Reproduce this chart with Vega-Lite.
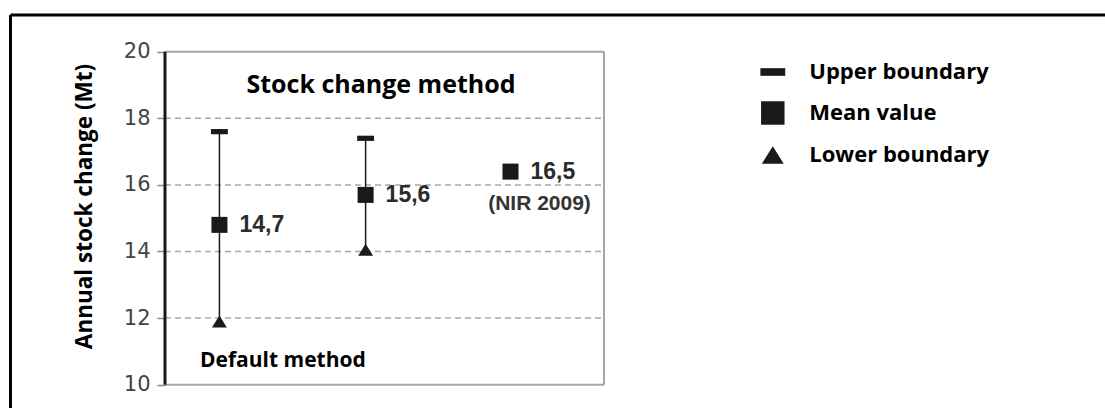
{
  "$schema": "https://vega.github.io/schema/vega-lite/v6.json",
  "width": 1094.5,
  "height": 393,
  "autosize": {"type": "none"},
  "padding": {"left": 10.5, "top": 15, "right": 0, "bottom": 0},
  "background": "white",
  "config": {
    "view": {"stroke": "#000000", "strokeWidth": 3, "strokeDash": [1094.5, 1487.5, 393, 0]},
    "font": "Open Sans"
  },
  "datasets": {
    "estimates": [
      {"method": "Default method", "idx": 1.24, "lower": 11.9, "mean": 14.8, "upper": 17.6, "label": "14,7"},
      {"method": "Stock change method", "idx": 4.57, "lower": 14.05, "mean": 15.7, "upper": 17.4, "label": "15,6"},
      {"method": "NIR 2009", "idx": 7.87, "lower": null, "mean": 16.4, "upper": null, "label": "16,5", "note": "(NIR 2009)"}
    ],
    "grid": [{"v": 12}, {"v": 14}, {"v": 16}, {"v": 18}]
  },
  "layer": [
    {
      "data": {"name": "grid"},
      "mark": {"type": "rule", "color": "#a6a6a6", "strokeWidth": 1.5, "strokeDash": [6, 4]},
      "encoding": {
        "x": {"datum": 0, "type": "quantitative", "scale": {"domain": [-3.519, 21.412], "nice": false, "zero": false}, "axis": null},
        "x2": {"datum": 10},
        "y": {
          "field": "v", "type": "quantitative",
          "scale": {"domain": [9.299, 21.104], "nice": false, "zero": false},
          "axis": {
            "title": "Annual stock change (Mt)",
            "orient": "left",
            "offset": -154.5,
            "values": [10, 12, 14, 16, 18, 20],
            "domain": false,
            "grid": false,
            "ticks": true,
            "tickColor": "#8c8c8c",
            "tickSize": 8,
            "tickWidth": 1.5,
            "labelFont": "DejaVu Sans",
            "labelFontSize": 21,
            "labelColor": "#444444",
            "labelPadding": 7,
            "titleFont": "Open Sans",
            "titleFontSize": 22.5,
            "titleFontWeight": "bold",
            "titleColor": "#000000",
            "titleAngle": 270,
            "titleAlign": "center",
            "titleBaseline": "alphabetic",
            "titleX": -74,
            "titleY": 191
          }
        }
      }
    },
    {
      "data": {"values": [{}]},
      "mark": {"type": "rule", "color": "#a6a6a6", "strokeWidth": 2},
      "encoding": {"x": {"datum": 0, "type": "quantitative", "axis": null}, "x2": {"datum": 10}, "y": {"datum": 20, "type": "quantitative"}}
    },
    {
      "data": {"values": [{}]},
      "mark": {"type": "rule", "color": "#a6a6a6", "strokeWidth": 2},
      "encoding": {"x": {"datum": 0, "type": "quantitative", "axis": null}, "x2": {"datum": 10}, "y": {"datum": 10, "type": "quantitative"}}
    },
    {
      "data": {"values": [{}]},
      "mark": {"type": "rule", "color": "#a6a6a6", "strokeWidth": 2},
      "encoding": {"x": {"datum": 10, "type": "quantitative", "axis": null}, "y": {"datum": 10, "type": "quantitative"}, "y2": {"datum": 20}}
    },
    {
      "data": {"values": [{}]},
      "mark": {"type": "rule", "color": "#1a1a1a", "strokeWidth": 3},
      "encoding": {"x": {"datum": 0, "type": "quantitative", "axis": null}, "y": {"datum": 10, "type": "quantitative"}, "y2": {"datum": 20}}
    },
    {
      "data": {"name": "estimates"},
      "transform": [{"filter": "datum.lower != null"}],
      "mark": {"type": "rule", "color": "#1a1a1a", "strokeWidth": 1.5},
      "encoding": {
        "x": {"field": "idx", "type": "quantitative", "axis": null},
        "y": {"field": "lower", "type": "quantitative"},
        "y2": {"field": "upper"}
      }
    },
    {
      "data": {"name": "estimates"},
      "transform": [
        {"fold": ["upper", "mean", "lower"], "as": ["stat", "value"]},
        {"filter": "datum.value != null"}
      ],
      "mark": {"type": "point", "filled": true, "opacity": 1, "color": "#1a1a1a", "size": 324, "strokeWidth": 0},
      "encoding": {
        "x": {"field": "idx", "type": "quantitative", "axis": null},
        "y": {"field": "value", "type": "quantitative"},
        "shape": {
          "field": "stat", "type": "nominal",
          "scale": {
            "domain": ["upper", "mean", "lower"],
            "range": ["M-0.94,-0.29H0.94V0.29H-0.94Z", "M-0.89,-0.89H0.89V0.89H-0.89Z", "M0,-0.67L0.83,0.67H-0.83Z"]
          },
          "legend": {
            "orient": "none",
            "legendX": 748.8,
            "legendY": 43.5,
            "title": null,
            "padding": 0,
            "labelExpr": "datum.label == 'upper' ? 'Upper boundary' : datum.label == 'mean' ? 'Mean value' : 'Lower boundary'",
            "labelFont": "Open Sans",
            "labelFontSize": 22,
            "labelFontWeight": "bold",
            "labelColor": "#000000",
            "labelOffset": 23,
            "labelLimit": 400,
            "symbolSize": 697,
            "symbolFillColor": "#1a1a1a",
            "symbolStrokeWidth": 0,
            "symbolOpacity": 1,
            "rowPadding": 16
          }
        }
      }
    },
    {
      "data": {"name": "estimates"},
      "mark": {"type": "text", "align": "left", "baseline": "middle", "dx": 20, "font": "Liberation Sans", "fontSize": 23, "fontWeight": "bold", "color": "#2b2b2b"},
      "encoding": {
        "x": {"field": "idx", "type": "quantitative", "axis": null},
        "y": {"field": "mean", "type": "quantitative"},
        "text": {"field": "label"}
      }
    },
    {
      "data": {"name": "estimates"},
      "transform": [{"filter": "datum.note != null"}],
      "mark": {"type": "text", "align": "center", "baseline": "middle", "dx": 29, "dy": 32, "font": "Liberation Sans", "fontSize": 21, "fontWeight": "bold", "color": "#333333"},
      "encoding": {
        "x": {"field": "idx", "type": "quantitative", "axis": null},
        "y": {"field": "mean", "type": "quantitative"},
        "text": {"field": "note"}
      }
    },
    {
      "data": {"values": [{}]},
      "mark": {"type": "text", "text": "Stock change method", "align": "center", "baseline": "alphabetic", "font": "Open Sans", "fontSize": 25, "fontWeight": "bold", "color": "#000000"},
      "encoding": {"x": {"datum": 4.92, "type": "quantitative", "axis": null}, "y": {"datum": 18.75, "type": "quantitative"}}
    },
    {
      "data": {"values": [{}]},
      "mark": {"type": "text", "text": "Default method", "align": "left", "baseline": "alphabetic", "font": "Open Sans", "fontSize": 21, "fontWeight": "bold", "color": "#000000"},
      "encoding": {"x": {"datum": 0.797, "type": "quantitative", "axis": null}, "y": {"datum": 10.54, "type": "quantitative"}}
    }
  ]
}
